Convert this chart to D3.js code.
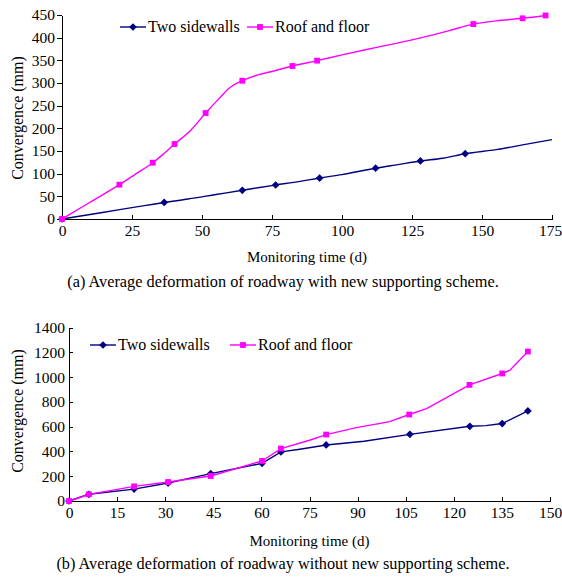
<!DOCTYPE html>
<meta charset="utf-8">
<head>
	<title>Average deformation of roadway</title>
	<script src="https://d3js.org/d3.v7.min.js"></script>
	<style>
		body { margin: 0; background: #fff; }
		text { font-family: "Liberation Serif", "Times New Roman", serif; fill: #000; }
		.axis path, .axis line { stroke: #000; stroke-width: 1px; shape-rendering: crispEdges; }
		.axis text { font-size: 15.5px; font-family: "Liberation Serif", "Times New Roman", serif; }
	</style>
</head>
<body>
	<div id="chart"></div>
	<script>
		// ---- data ----
		// (a) with new supporting scheme
		var timeTicksA = [0, 25, 50, 75, 100, 125, 150, 175];
		var convTicksA = [0, 50, 100, 150, 200, 250, 300, 350, 400, 450];
		var sideDaysA = [0, 10, 20, 30, 36.5, 45, 55, 64.4, 70, 76.3, 85, 92, 100, 112, 120, 128, 136, 144, 155, 165, 175];
		var sideValsA = [0, 10, 20, 30, 36.5, 44, 54, 63.3, 69, 75, 83, 90.4, 98, 112, 120, 128, 134, 144, 153, 164, 175];
		var sideMarkA = [1, 0, 0, 0, 1, 0, 0, 1, 0, 1, 0, 1, 0, 1, 0, 1, 0, 1, 0, 0, 0];
		var roofDaysA = [0, 10, 20.5, 26, 32.4, 36, 40.2, 46, 51.3, 56, 60, 64.4, 70, 76, 82.3, 91.1, 100, 112, 125, 138, 146.9, 155, 164.5, 172.7];
		var roofValsA = [0, 37, 75.7, 98, 124.2, 142, 165.4, 196, 233.8, 265, 290, 305, 318, 327, 337.5, 349.3, 362, 378, 395, 415, 430, 437, 442.7, 449];
		var roofMarkA = [1, 0, 1, 0, 1, 0, 1, 0, 1, 0, 0, 1, 0, 0, 1, 1, 0, 0, 0, 0, 1, 0, 1, 1];

		// (b) without new supporting scheme
		var timeTicksB = [0, 15, 30, 45, 60, 75, 90, 105, 120, 135, 150];
		var convTicksB = [0, 200, 400, 600, 800, 1000, 1200, 1400];
		var sideDaysB = [0, 6.2, 20.3, 30.9, 44.2, 60.2, 66.1, 72, 80.2, 92, 106.3, 125, 130, 135.1, 143.1];
		var sideValsB = [0, 54, 96, 145, 221, 304, 396, 418, 452, 482, 538, 603, 608, 625, 727];
		var sideMarkB = [1, 1, 1, 1, 1, 1, 1, 0, 1, 0, 1, 1, 0, 1, 1];
		var roofDaysB = [0, 6.2, 20.3, 30.9, 44.2, 60.2, 66.1, 75, 80.2, 89.6, 100, 106.1, 111.5, 124.9, 135.1, 137.5, 143.1];
		var roofValsB = [0, 54, 118, 153, 202, 323, 423, 490, 536, 592, 640, 698, 746, 937, 1029, 1055, 1206];
		var roofMarkB = [1, 1, 1, 1, 1, 1, 1, 0, 1, 0, 0, 1, 0, 1, 1, 0, 1];

		var seriesNames = ["Two sidewalls", "Roof and floor"];
		var seriesColors = ["#000080", "#ff00ff"];

		var w = 562, h = 577;
		var svg = d3.select("#chart").append("svg")
			.attr("width", w).attr("height", h);
		svg.append("rect").attr("width", w).attr("height", h).attr("fill", "#fff");

		function pts(days, vals, marks) {
			return days.map(function (d, i) { return { t: d, v: vals[i], m: marks[i] }; });
		}

		// excel-style markers: rotated square for the diamond
		var diamond = d3.symbol().type(d3.symbolSquare).size(30);
		var square = d3.symbol().type(d3.symbolSquare).size(34);
		var shapes = [diamond, square];
		var rot = [45, 0];

		function drawPanel(cfg) {
			var x = d3.scaleLinear().domain(cfg.xDomain).range(cfg.xRange);
			var y = d3.scaleLinear().domain(cfg.yDomain).range(cfg.yRange);
			var g = svg.append("g");

			var gx = g.append("g").attr("class", "axis")
				.attr("transform", "translate(0," + cfg.yRange[0] + ")")
				.call(d3.axisBottom(x).tickValues(cfg.xTicks).tickFormat(d3.format("d"))
					.tickSizeInner(-4).tickSizeOuter(0).tickPadding(6));
			// keep the last label inside the page
			gx.selectAll(".tick text").filter(function (d) { return d === cfg.xDomain[1]; })
				.attr("dx", cfg.lastDx);

			g.append("g").attr("class", "axis")
				.attr("transform", "translate(" + cfg.xRange[0] + ",0)")
				.call(d3.axisLeft(y).tickValues(cfg.yTicks).tickFormat(d3.format("d"))
					.tickSizeInner(cfg.yTickIn).tickSizeOuter(0).tickPadding(cfg.yPad));

			var line = d3.line()
				.x(function (d) { return x(d.t); })
				.y(function (d) { return y(d.v); })
				.curve(cfg.curve);

			cfg.series.forEach(function (s, k) {
				g.append("path")
					.datum(s)
					.attr("fill", "none")
					.attr("stroke", seriesColors[k])
					.attr("stroke-width", 1.4)
					.attr("d", line);
				g.selectAll(".mk" + k)
					.data(s.filter(function (d) { return d.m; }))
					.enter().append("path")
					.attr("class", "mk" + k)
					.attr("transform", function (d) { return "translate(" + x(d.t) + "," + y(d.v) + ") rotate(" + rot[k] + ")"; })
					.attr("d", shapes[k])
					.attr("fill", seriesColors[k]);
			});

			// legend
			cfg.legend.forEach(function (lx, k) {
				var lg = g.append("g").attr("transform", "translate(" + lx + "," + cfg.legendY + ")");
				lg.append("line").attr("x1", 0).attr("x2", 26).attr("y1", 0).attr("y2", 0)
					.attr("stroke", seriesColors[k]).attr("stroke-width", 1.4);
				lg.append("path").attr("transform", "translate(13,0) rotate(" + rot[k] + ")")
					.attr("d", shapes[k]).attr("fill", seriesColors[k]);
				lg.append("text").attr("x", 28).attr("y", 5).style("font-size", "16px").text(seriesNames[k]);
			});

			g.append("text")
				.attr("transform", "translate(" + cfg.yTitle[0] + "," + cfg.yTitle[1] + ") rotate(-90)")
				.attr("text-anchor", "middle").style("font-size", "16px")
				.text("Convergence (mm)");
			g.append("text")
				.attr("x", (cfg.xRange[0] + cfg.xRange[1]) / 2).attr("y", cfg.xTitleY)
				.attr("text-anchor", "middle").style("font-size", "15px")
				.text("Monitoring time (d)");
			g.append("text")
				.attr("x", 283).attr("y", cfg.captionY)
				.attr("text-anchor", "middle").style("font-size", "16.3px")
				.text(cfg.caption);
		}

		drawPanel({
			xDomain: [0, 175], xRange: [62, 552],
			yDomain: [0, 450], yRange: [219, 15],
			xTicks: timeTicksA, yTicks: convTicksA, yTickIn: 5, yPad: 2, lastDx: -2,
			curve: d3.curveMonotoneX,
			series: [pts(sideDaysA, sideValsA, sideMarkA), pts(roofDaysA, roofValsA, roofMarkA)],
			legend: [120, 247], legendY: 27,
			yTitle: [23, 118], xTitleY: 262, captionY: 287,
			caption: "(a) Average deformation of roadway with new supporting scheme."
		});

		drawPanel({
			xDomain: [0, 150], xRange: [69, 550],
			yDomain: [0, 1400], yRange: [501, 327.5],
			xTicks: timeTicksB, yTicks: convTicksB, yTickIn: -4, yPad: 4, lastDx: 0,
			curve: d3.curveLinear,
			series: [pts(sideDaysB, sideValsB, sideMarkB), pts(roofDaysB, roofValsB, roofMarkB)],
			legend: [90, 230], legendY: 345,
			yTitle: [23, 411], xTitleY: 546, captionY: 569,
			caption: "(b) Average deformation of roadway without new supporting scheme."
		});
	</script>
</body>
</html>
